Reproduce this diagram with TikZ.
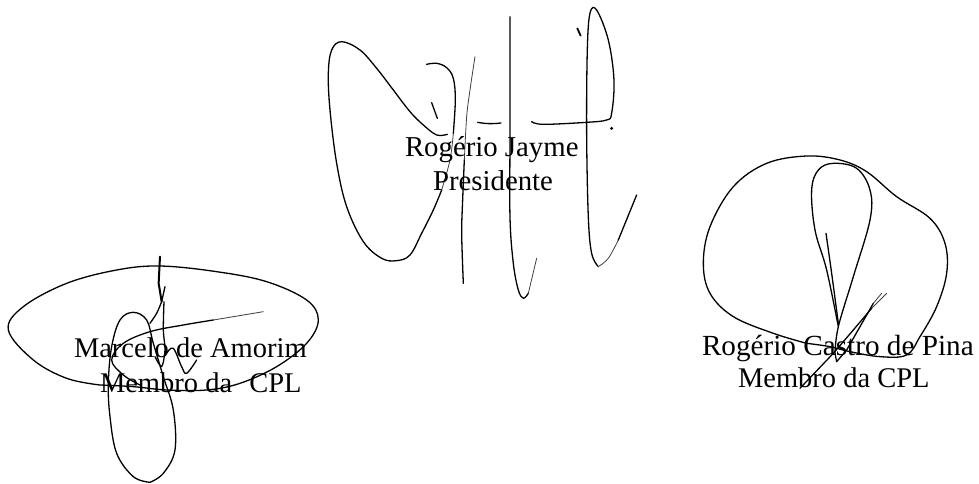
\documentclass[tikz,border=0pt]{standalone}
\usepackage{fontspec}
\setmainfont{Liberation Serif}
\tikzset{
  sig/.style={draw=black,line width=1.3pt,line cap=round,line join=round},
  thinsig/.style={draw=black!75,line width=0.8pt,line cap=round},
  lab/.style={anchor=base west,inner sep=0pt,outer sep=0pt,text=black,font=\fontsize{#1}{#1}\selectfont},
}
\begin{document}
\begin{tikzpicture}[x=1pt,y=-1pt]
\useasboundingbox (0,0) rectangle (979,483);
\fill[white] (0,0) rectangle (979,483);
% first signature: zoomed coordinates (x/3+310, y/3)
\begin{scope}[shift={(310,0)},x=0.3333pt,y=-0.3333pt]
\draw[sig] plot[smooth,tension=0.6] coordinates {(412,403)(380,405)(340,375)(300,335)(250,270)(200,205)(150,150)(95,125)(65,150)(55,220)(60,330)(80,490)(110,620)(160,725)(215,775)(260,782)(300,765)(335,700)(370,630)(395,570)};
\draw[thinsig] plot[smooth,tension=0.6] coordinates {(395,570)(420,480)(430,400)};
\draw[sig] plot[smooth,tension=0.6] coordinates {(430,400)(436,300)(430,235)(410,203)(380,190)(350,193)};
\draw[thinsig] plot[smooth] coordinates {(495,170)(480,270)(470,350)(463,480)};
\draw[sig] plot[smooth] coordinates {(463,480)(458,600)(455,700)(460,850)};
\draw[sig] plot[smooth,tension=0.6] coordinates {(600,50)(600,400)(600,650)(610,790)(625,870)(640,895)(655,880)};
\draw[thinsig] (655,880) -- (680,775);
\draw[sig] (365,308) -- (382,355);
\draw[sig,line width=1.8pt] (802,85) -- (812,107);
\draw[sig] (503,367) .. controls (530,372) and (550,372) .. (573,369);
\draw[sig] plot[smooth,tension=0.6] coordinates {(665,365)(700,373)(830,367)(890,360)(905,340)(912,240)(895,120)(860,30)(840,40)(832,150)(830,400)(835,650)(845,760)(865,800)};
\draw[thinsig] plot[smooth,tension=0.6] coordinates {(865,800)(895,775)(925,720)};
\draw[sig] (925,720) -- (980,585);
\fill (905,385) circle (5);
\end{scope}
% second signature
\begin{scope}[shift={(0,250)},x=0.3333pt,y=-0.3333pt]
\draw[sig] plot[smooth,tension=0.6] coordinates {(300,405)(200,385)(100,330)(25,240)(70,170)(200,100)(350,60)(480,48)(650,65)(800,95)(920,150)(955,210)(920,280)(830,350)(720,400)(620,420)(500,420)(400,410)(300,405)};
\draw[thinsig] (790,185) -- (640,210);
\draw[sig] plot[smooth,tension=0.6] coordinates {(640,210)(550,225)(450,245)(370,280)(335,330)(370,375)(420,405)};
\draw[sig] plot[smooth,tension=0.6] coordinates {(450,697)(400,680)(350,610)(330,500)(325,400)(335,290)(360,210)(400,187)(440,210)(460,280)(490,380)(520,480)(525,600)(490,670)(450,697)};
\draw[sig,line width=2pt] (480,20) -- (476,100) -- (485,155);
\draw[sig] (485,155) -- (495,110);
\draw[sig] plot[smooth] coordinates {(485,155)(470,190)(450,220)};
\draw[sig] plot[smooth] coordinates {(492,155)(490,240)(495,300)(485,350)(465,320)};
\draw[sig] plot[smooth,tension=0.6] coordinates {(500,310)(520,295)(545,350)(560,370)(590,330)};
\end{scope}
% third signature
\begin{scope}[shift={(690,130)},x=0.3333pt,y=-0.3333pt]
\draw[sig] plot[smooth,tension=0.6] coordinates {(350,640)(250,610)(130,560)(60,490)(40,400)(60,290)(130,170)(230,100)(350,78)(450,90)(530,125)(620,200)(720,265)(765,340)(770,430)(740,530)(690,620)(650,675)(570,680)(480,665)(420,650)(350,640)};
\draw[sig] plot[smooth,tension=0.6] coordinates {(435,670)(445,590)(490,440)(540,270)(540,180)(500,115)(430,100)(385,120)(365,180)(375,300)(410,420)(445,590)};
\draw[sig] plot[smooth] coordinates {(408,310)(425,430)(445,580)};
\draw[sig] (330,775) -- (430,670) -- (490,600) -- (545,535);
\draw[thinsig] (545,535) -- (590,490);
\draw[sig] (435,670) -- (440,695) -- (470,660) -- (550,520);
\draw[thinsig] (550,520) -- (575,490);
\end{scope}
\node[lab=28.8] (jayme) at (405,156) {Rogério Jayme};
\node[lab=28.8] (pres) at (433,190) {Presidente};
\node[lab=28.5] (marcelo) at (74,357) {Marcelo de Amorim};
\node[lab=28.5] (membroA) at (100,392) {Membro da\hspace{0.35em} CPL};
\node[lab=29.2] (pina) at (702,355) {Rogério Castro de Pina};
\node[lab=28.5] (membroB) at (738,387) {Membro da CPL};
\end{tikzpicture}
\end{document}
